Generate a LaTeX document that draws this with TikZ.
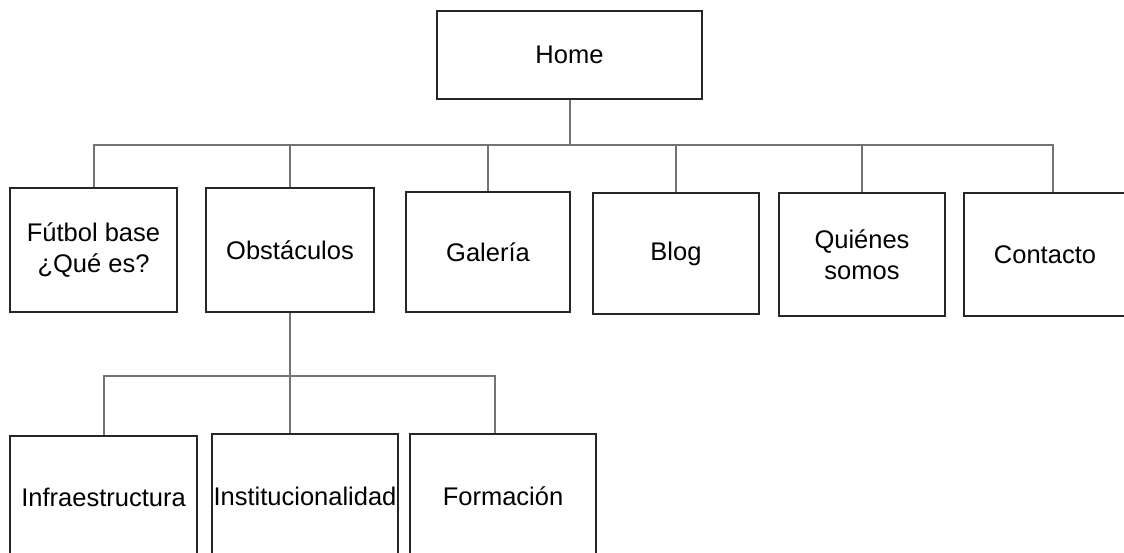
\documentclass[tikz,border=0pt]{standalone}
\usepackage{fontspec}
\setmainfont{Liberation Sans}
\usepackage{tikz}

\begin{document}
\begin{tikzpicture}[x=1pt, y=-1pt]
	\tikzstyle{every node}=[font=\fontsize{25.5}{31}\selectfont];
	\tikzstyle{page}=[draw=black!85, line width=1.4pt, align=center, inner sep=0pt];
	\tikzstyle{link}=[draw=black!55, line width=2pt];

	\useasboundingbox (0, 0) rectangle (1124, 553);

	%Home
	\node[page, minimum width=265, minimum height=88] (home) at (569.5, 55) {Home};

	%Main sections
	\node[page, minimum width=167, minimum height=124] (futbol) at (93.5, 250) {Fútbol base\\¿Qué es?};
	\node[page, minimum width=168, minimum height=124] (obst) at (290, 250) {Obstáculos};
	\node[page, minimum width=164, minimum height=120] (galeria) at (488, 252) {Galería};
	\node[page, minimum width=166, minimum height=121] (blog) at (676, 253.5) {Blog};
	\node[page, minimum width=166, minimum height=123] (quienes) at (862, 254.5) {Quiénes\\somos};
	\node[page, minimum width=162, minimum height=123] (contacto) at (1045, 254.5) {Contacto};

	%Obstacles
	\node[page, minimum width=187, minimum height=123] (infra) at (103.5, 497.5) {Infraestructura};
	\node[page, minimum width=186, minimum height=125] (instit) at (305, 496.5) {Institucionalidad};
	\node[page, minimum width=186, minimum height=125] (formacion) at (503, 496.5) {Formación};

	%Links
	\coordinate (bus) at (569.5, 145);
	\draw[link] (home.south) -- (bus);
	\draw[link] (futbol.north) |- (bus) -| ([xshift=7.5]contacto.north);
	\foreach \n in {obst, galeria, blog, quienes}
		\draw[link] (\n.north) -- (\n.north |- bus);

	\coordinate (subbus) at (289, 376);
	\draw[link] (obst.south) -- (obst.south |- instit.north);
	\draw[link] (infra.north) |- (subbus) -| ([xshift=-8]formacion.north);
\end{tikzpicture}
\end{document}
